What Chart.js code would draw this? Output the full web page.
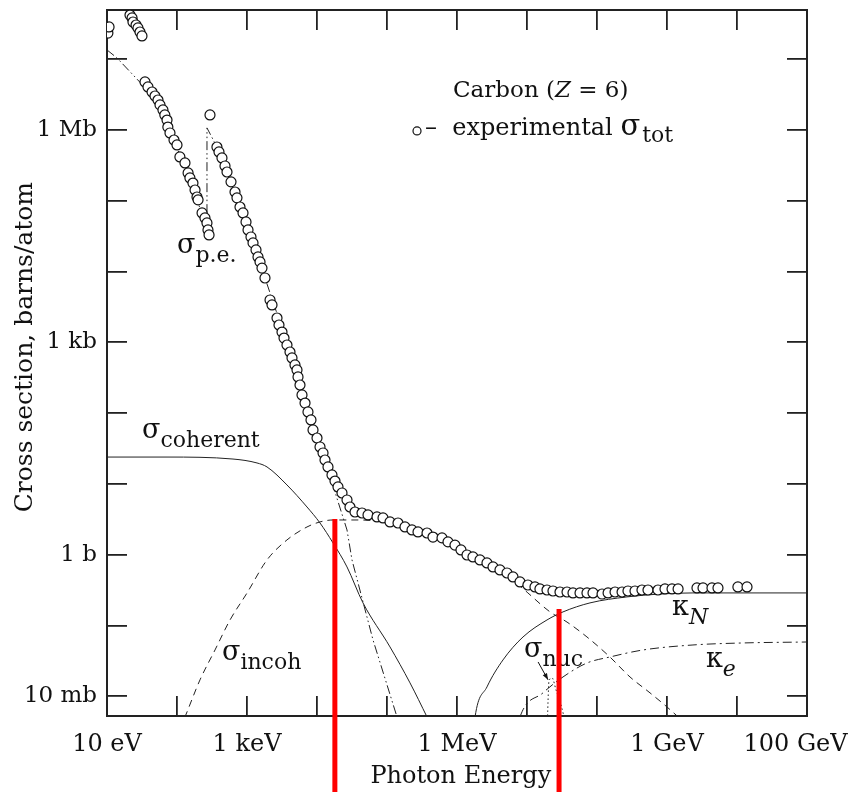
<!DOCTYPE html>
<html>
<head>
<meta charset="utf-8">
<script src="https://cdn.jsdelivr.net/npm/chart.js@4.4.1/dist/chart.umd.min.js"></script>
<style>
  html, body { margin: 0; padding: 0; background: #fff; }
</style>
</head>
<body>
<canvas id="crossSection" width="852" height="792"></canvas>
<script>
// photon energy in eV, cross sections in barns/atom

// experimental sigma_tot (open circles)
var expEnergy = [10.3, 10.7, 21.3, 22.8, 23.5, 26, 27.7, 29.6, 31.6,
    34.9, 38.5, 44, 48.5, 53.5, 57.2, 63, 67, 72, 74, 79.4, 90.6, 100, 110, 130, 144, 153, 169, 181, 193, 200, 228, 251, 268, 277, 287,
    296,
    372, 398, 439, 485, 518, 591, 674, 719, 794, 877, 968, 1034, 1140, 1219, 1345, 1436, 1535, 1637, 1807,
    2133, 2276, 2683, 2864, 3162, 3379, 3725, 4113, 4394, 4849, 5179, 5355, 5715, 6105, 6745, 7432, 8204, 8770,
    1.0e4, 1.104e4, 1.219e4, 1.301e4, 1.436e4, 1.637e4, 1.807e4, 1.995e4, 2.276e4, 2.683e4, 2.959e4, 3.491e4, 4.394e4, 5.354e4, 7.194e4, 8.77e4,
    1.104e5, 1.436e5, 1.807e5, 2.276e5, 2.773e5, 3.728e5, 4.538e5, 6.105e5, 7.437e5, 9.355e5,
    1.14e6, 1.39e6, 1.69e6, 2.13e6, 2.68e6, 3.27e6, 4.11e6, 5.18e6, 6.31e6, 7.94e6,
    1.03e7, 1.30e7, 1.53e7, 1.93e7, 2.35e7, 2.96e7, 3.73e7, 4.54e7, 5.72e7, 7.19e7, 8.77e7,
    1.18e8, 1.44e8, 1.81e8, 2.28e8, 2.77e8, 3.49e8, 4.39e8, 5.35e8, 7.43e8, 9.36e8,
    1.18e9, 1.44e9, 2.68e9, 3.27e9, 4.39e9, 5.35e9, 1.03e10, 1.39e10]
var expSigma = [2.34e7, 2.85e7, 4.2e7, 3.82e7, 3.35e7, 3.04e7, 2.76e7, 2.42e7, 2.13e7,
    4.77e6, 4.05e6, 3.44e6, 3.02e6, 2.65e6, 2.26e6, 1.92e6, 1.63e6, 1.38e6, 1.10e6, 9.07e5, 7.22e5, 6.14e5, 4.16e5, 3.42e5, 2.47e5, 2.10e5, 1.78e5, 1.42e5, 1.13e5, 1.03e5, 6.73e4, 5.72e4, 4.86e4, 3.87e4, 3.29e4,
    1.63e6,
    5.75e5, 4.89e5, 4.03e5, 3.10e5, 2.55e5, 1.85e5, 1.33e5, 1.10e5, 8.17e4, 6.73e4, 5.02e4, 3.87e4, 3.08e4, 2.54e4, 2.02e4, 1.61e4, 1.37e4, 1.12e4, 8120,
    3970, 3380, 2210, 1760, 1400, 1150, 918, 731, 602, 480, 408, 325, 250, 181, 139, 104, 80.2, 57.9,
    44.6, 33.3, 27.4, 21.8, 17.4, 13.4, 11.0, 9.07, 7.46, 5.94, 4.73, 4.02, 3.89, 3.65, 3.42, 3.31,
    2.91, 2.81, 2.47, 2.24, 2.10, 2.03, 1.78, 1.73, 1.52, 1.37,
    1.17, 0.993, 0.931, 0.845, 0.766, 0.673, 0.610, 0.553, 0.486, 0.413,
    0.374, 0.351, 0.329, 0.318, 0.308, 0.298, 0.298, 0.289, 0.289, 0.289, 0.289,
    0.279, 0.289, 0.298, 0.298, 0.308, 0.308, 0.318, 0.318, 0.318, 0.329,
    0.329, 0.329, 0.340, 0.340, 0.340, 0.340, 0.351, 0.351]

// photoelectric (with the K edge)
var peEnergy = [10, 13.9, 25.1, 41.1, 57.2, 100, 181, 268, 268, 372, 794, 1807, 4113, 8204, 13010, 18070, 26830, 31620, 63100, 139000]
var peSigma = [1.35e7, 1.04e7, 5.61e6, 3.33e6, 2.26e6, 5.57e5, 1.33e5, 3.62e4, 1.07e6, 5.75e5, 8.17e4, 8120, 731, 80.2, 21.8, 7.7, 2.24, 0.845, 0.0627, 0.00512]

// coherent (Rayleigh)
var cohEnergy = [10, 72, 631, 1390, 1931, 3725, 7197, 11040, 16930, 26830, 45390, 110400, 213200, 372800, 450000]
var cohSigma = [24.0, 24.0, 22.5, 19.8, 17.4, 9.68, 4.73, 2.81, 1.47, 0.673, 0.209, 0.0499, 0.0155, 0.00512, 0.0035]

// incoherent (Compton)
var incohEnergy = [110, 130, 213, 349, 572, 1000, 1931, 3725, 7197, 11040, 16930, 38550, 110400, 372800, 1e6, 2.96e6, 6.31e6,
    1.03e7, 2.13e7, 3.73e7, 7.19e7, 1.53e8, 2.96e8, 5.72e8, 1e9, 1.44e9, 2.13e9]
var incohSigma = [0.0035, 0.00512, 0.0171, 0.0452, 0.120, 0.288, 0.845, 1.62, 2.47, 2.91, 3.10, 3.10, 2.81, 1.91, 1.25, 0.695, 0.441,
    0.289, 0.156, 0.112, 0.0690, 0.0360, 0.0188, 0.0112, 0.00708, 0.00513, 0.00358]

// pair production, nuclear field
var kappaNEnergy = [1.58e6, 1.81e6, 2.68e6, 4.54e6, 8.77e6, 1.93e7, 3.27e7, 7.94e7, 2.68e8, 7.94e8, 2.35e9, 2.13e10, 1e11]
var kappaNSigma = [0.00126, 0.00512, 0.0136, 0.0327, 0.0690, 0.120, 0.156, 0.209, 0.254, 0.279, 0.289, 0.289, 0.289]

// pair production, electron field
var kappaEEnergy = [6.97e6, 7.94e6, 1.69e7, 3.27e7, 7.19e7, 1.53e8, 4.54e8, 2.35e9, 1.22e10, 1e11]
var kappaESigma = [0.00285, 0.00512, 0.0112, 0.0188, 0.0296, 0.0360, 0.0452, 0.0532, 0.0568, 0.0586]

// photonuclear (giant dipole resonance)
var nucEnergy = [1.93e7, 2.0e7, 2.06e7, 2.28e7, 2.6e7, 3.06e7, 3.6e7]
var nucSigma = [0.00242, 0.00889, 0.0165, 0.0182, 0.0123, 0.00757, 0.00394]

// axis labels
var xLabelValues = [1e1, 1e3, 1e6, 1e9, 1e11]
var xLabelTexts = ['10 eV', '1 keV', '1 MeV', '1 GeV', '100 GeV\u00a0\u00a0\u00a0']
var yLabelValues = [1e6, 1e3, 1, 1e-2]
var yLabelTexts = ['1 Mb', '1 kb', '1 b', '10 mb']

// red markers drawn over the plot
var redLineEnergy = [1.8e4, 2.87e7]
var redLineTop = [3.2, 0.171]

var X_MIN = 10, X_MAX = 1e11
var Y_MIN = 5.28e-3, Y_MAX = 4.95e7
var FONT = '"DejaVu Serif", serif'
var INK = '#222'

// curve names, anchored in data space
var curveLabels = [
    { e: 100, s: 1.83e4, main: 'σ', sub: 'p.e.' },
    { e: 31.6, s: 44.7, main: 'σ', sub: 'coherent' },
    { e: 439, s: 0.0327, main: 'σ', sub: 'incoh' },
    { e: 9.06e6, s: 0.036, main: 'σ', sub: 'nuc' },
    { e: 1.18e9, s: 0.141, main: 'κ', sub: 'N', italic: true },
    { e: 3.6e9, s: 0.026, main: 'κ', sub: 'e', italic: true }
]

function points(xs, ys) {
    return xs.map(function (x, i) { return { x: x, y: ys[i] } })
}

function decadeTicks(scale) {
    var lo = Math.ceil(Math.log10(scale.min) - 1e-9)
    var hi = Math.floor(Math.log10(scale.max) + 1e-9)
    var t = []
    for (var k = lo; k <= hi; k++) t.push({ value: Math.pow(10, k) })
    scale.ticks = t
}

function labelFor(values, texts) {
    return function (v) {
        var k = Math.round(Math.log10(v))
        for (var i = 0; i < values.length; i++) {
            if (Math.round(Math.log10(values[i])) === k) return texts[i]
        }
        return ''
    }
}

// fixed axis boxes so the plot area lands where the original has it
function fixSize(w, h) {
    return function (s) {
        if (w !== null) s.width = w
        if (h !== null) s.height = h
        s.paddingLeft = s.paddingRight = s.paddingTop = s.paddingBottom = 0
    }
}

function curve(data, dash, smooth) {
    return {
        data: data,
        showLine: true,
        pointRadius: 0,
        borderColor: INK,
        borderWidth: 1,
        borderDash: dash,
        fill: false,
        cubicInterpolationMode: smooth ? 'monotone' : 'default',
        tension: 0
    }
}

function drawRich(ctx, x, y, parts) {
    parts.forEach(function (p) {
        ctx.font = (p.italic ? 'italic ' : '') + p.size + 'px ' + FONT
        ctx.fillText(p.text, x, y + (p.dy || 0))
        x += ctx.measureText(p.text).width + (p.gap || 0)
    })
    return x
}

var annotate = {
    id: 'annotate',
    afterDatasetsDraw: function (chart) {
        var ctx = chart.ctx, xs = chart.scales.x, ys = chart.scales.y
        ctx.save()
        ctx.fillStyle = '#111'
        ctx.textBaseline = 'alphabetic'
        ctx.textAlign = 'left'
        curveLabels.forEach(function (l) {
            var x = xs.getPixelForValue(l.e), y = ys.getPixelForValue(l.s)
            drawRich(ctx, x, y, [
                { text: l.main, size: 27 },
                { text: l.sub, size: 22, dy: 9, italic: l.italic }
            ])
        })

        // arrow from the sigma_nuc label to the resonance peak
        var ax0 = xs.getPixelForValue(1.44e7), ay0 = ys.getPixelForValue(0.0306)
        var ax1 = xs.getPixelForValue(2.0e7), ay1 = ys.getPixelForValue(0.0171)
        var ang = Math.atan2(ay1 - ay0, ax1 - ax0)
        ctx.strokeStyle = '#111'
        ctx.lineWidth = 1
        ctx.beginPath()
        ctx.moveTo(ax0, ay0)
        ctx.lineTo(ax1, ay1)
        ctx.stroke()
        ctx.beginPath()
        ctx.moveTo(ax1, ay1)
        ctx.lineTo(ax1 - 7 * Math.cos(ang - 0.35), ay1 - 7 * Math.sin(ang - 0.35))
        ctx.lineTo(ax1 - 7 * Math.cos(ang + 0.35), ay1 - 7 * Math.sin(ang + 0.35))
        ctx.closePath()
        ctx.fill()

        // legend block
        var lx = xs.getPixelForValue(8.77e5), ly = ys.getPixelForValue(2.93e6)
        drawRich(ctx, lx, ly, [
            { text: 'Carbon (', size: 23 },
            { text: 'Z', size: 23, italic: true },
            { text: ' = 6)', size: 23 }
        ])
        ctx.beginPath()
        ctx.arc(lx - 36, ly + 34, 4, 0, Math.PI * 2)
        ctx.fillStyle = '#fff'
        ctx.fill()
        ctx.lineWidth = 1.2
        ctx.stroke()
        ctx.fillStyle = '#111'
        drawRich(ctx, lx - 28, ly + 38, [
            { text: '–\u00a0\u00a0experimental ', size: 24 },
            { text: 'σ', size: 29, gap: 2 },
            { text: 'tot', size: 22, dy: 7 }
        ])
        ctx.restore()
    },
    afterDraw: function (chart) {
        var ctx = chart.ctx, xs = chart.scales.x, ys = chart.scales.y
        ctx.save()
        ctx.strokeStyle = '#ff0000'
        ctx.lineWidth = 5
        redLineEnergy.forEach(function (e, i) {
            var x = xs.getPixelForValue(e)
            ctx.beginPath()
            ctx.moveTo(x, ys.getPixelForValue(redLineTop[i]))
            ctx.lineTo(x, chart.height)
            ctx.stroke()
        })
        ctx.restore()
    }
}

function logAxis(position, min, max, extra) {
    var axis = {
        type: 'logarithmic',
        position: position,
        min: min,
        max: max,
        afterBuildTicks: decadeTicks,
        grid: { drawOnChartArea: false, drawTicks: true, tickLength: -20, lineWidth: 1.8, color: INK },
        border: { display: true, width: 2, color: INK },
        ticks: { display: false, autoSkip: false, maxRotation: 0 }
    }
    return Object.assign(axis, extra)
}

var ctx = document.getElementById('crossSection').getContext('2d')
new Chart(ctx, {
    type: 'scatter',
    data: {
        datasets: [
            {
                data: points(expEnergy, expSigma),
                showLine: false,
                pointRadius: 5,
                pointBorderWidth: 1.2,
                pointBorderColor: '#111',
                pointBackgroundColor: '#fff',
                clip: 0
            },
            curve(points(peEnergy, peSigma), [9, 3, 1.5, 3, 1.5, 3], false),
            curve(points(cohEnergy, cohSigma), [], true),
            curve(points(incohEnergy, incohSigma), [7, 5], true),
            curve(points(kappaNEnergy, kappaNSigma), [], true),
            curve(points(kappaEEnergy, kappaESigma), [9, 4, 2, 4], true),
            curve(points(nucEnergy, nucSigma), [1.5, 2.5], true)
        ]
    },
    options: {
        responsive: false,
        animation: false,
        events: [],
        devicePixelRatio: 1,
        layout: { padding: { top: 10, right: 45, left: 0, bottom: 0 } },
        plugins: { legend: { display: false }, tooltip: { enabled: false } },
        scales: {
            x: logAxis('bottom', X_MIN, X_MAX, {
                afterFit: fixSize(null, 76),
                ticks: {
                    display: true, autoSkip: false, maxRotation: 0, padding: 34,
                    color: '#111', font: { family: FONT, size: 24 },
                    callback: labelFor(xLabelValues, xLabelTexts)
                },
                title: {
                    display: true, text: '\u00a0Photon Energy', color: '#111',
                    font: { family: FONT, size: 24 }, padding: { top: 0, bottom: 1 }
                }
            }),
            y: logAxis('left', Y_MIN, Y_MAX, {
                afterFit: fixSize(107, null),
                ticks: {
                    display: true, autoSkip: false, padding: 30,
                    color: '#111', font: { family: FONT, size: 23 },
                    callback: labelFor(yLabelValues, yLabelTexts)
                },
                title: {
                    display: true, text: '\u00a0\u00a0\u00a0\u00a0Cross section, barns/atom', color: '#111',
                    font: { family: FONT, size: 25 }, padding: { top: 10, bottom: 0 }
                }
            }),
            xTop: logAxis('top', X_MIN, X_MAX, { afterFit: fixSize(null, 0) }),
            yRight: logAxis('right', Y_MIN, Y_MAX, { afterFit: fixSize(0, null) })
        }
    },
    plugins: [annotate]
})
</script>
</body>
</html>
